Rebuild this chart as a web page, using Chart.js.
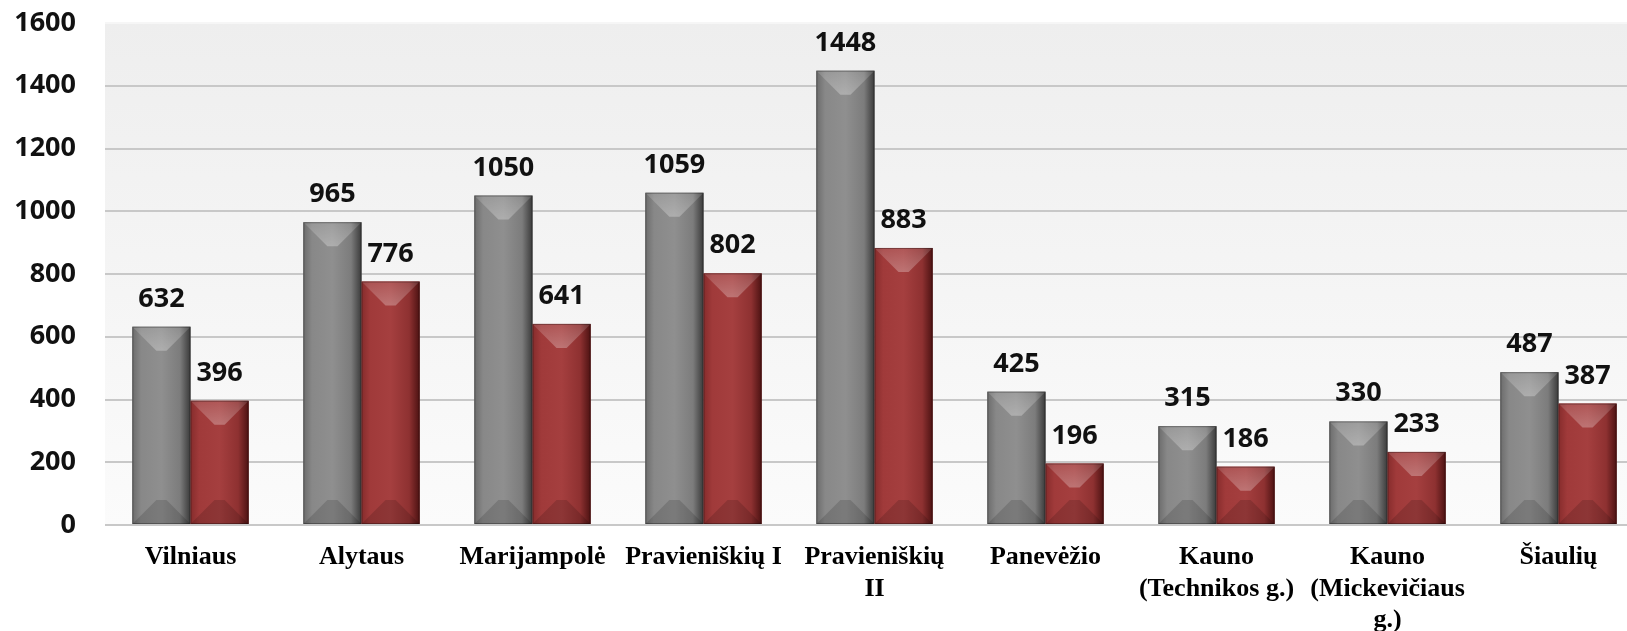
<!DOCTYPE html>
<html>
<head>
<meta charset="utf-8">
<script src="https://cdn.jsdelivr.net/npm/chart.js@4"></script>
<style>
  html, body { margin: 0; padding: 0; background: #fff; overflow: hidden; }
  #wrap { width: 1644px; height: 631px; }
</style>
</head>
<body>
<div id="wrap"><canvas id="barChart"></canvas></div>
<script>
// categories (multi-line labels as in the original)
const categories = [
    'Vilniaus',
    'Alytaus',
    'Marijampolė',
    'Pravieniškių I',
    ['Pravieniškių', 'II'],
    'Panevėžio',
    ['Kauno', '(Technikos g.)'],
    ['Kauno', '(Mickevičiaus', 'g.)'],
    'Šiaulių'
];
const greySeries = [632, 965, 1050, 1059, 1448, 425, 315, 330, 487];
const redSeries = [396, 776, 641, 802, 883, 196, 186, 233, 387];
const yTicks = [0, 200, 400, 600, 800, 1000, 1200, 1400, 1600];

const bevel = {
    grey: ['#6c6c6c', '#888888', '#8f8f8f', '#7c7c7c', '#3a3a3a'],
    red:  ['#862c2c', '#a03a3a', '#a53f3f', '#8e3131', '#4c1212']
};

// light gradient behind the plot area
const plotBackground = {
    id: 'plotBackground',
    beforeDraw(chart) {
        const { ctx, chartArea: a } = chart;
        const g = ctx.createLinearGradient(0, a.top, 0, a.bottom);
        g.addColorStop(0, '#eeeeee');
        g.addColorStop(1, '#fbfbfb');
        ctx.save();
        ctx.fillStyle = g;
        ctx.fillRect(a.left, a.top, a.right - a.left, a.bottom - a.top);
        ctx.restore();
    }
};

// bevelled look + value labels, drawn on top of the bar elements
const bevelBars = {
    id: 'bevelBars',
    afterDatasetsDraw(chart) {
        const ctx = chart.ctx;
        chart.data.datasets.forEach((ds, di) => {
            const stops = bevel[ds.palette];
            chart.getDatasetMeta(di).data.forEach((bar, i) => {
                const { x, y, base, width } = bar.getProps(['x', 'y', 'base', 'width'], true);
                const l = x - width / 2, r = x + width / 2;
                const b = Math.min(24, width / 2 - 5, (base - y) / 2);
                ctx.save();
                // face shading left -> right
                const hg = ctx.createLinearGradient(l, 0, r, 0);
                [0, 0.15, 0.5, 0.82, 1].forEach((s, k) => hg.addColorStop(s, stops[k]));
                ctx.fillStyle = hg;
                ctx.fillRect(l, y, width, base - y);
                // top bevel
                const tg = ctx.createLinearGradient(0, y, 0, y + b);
                tg.addColorStop(0, 'rgba(255,255,255,0.12)');
                tg.addColorStop(1, 'rgba(255,255,255,0.28)');
                ctx.fillStyle = tg;
                ctx.beginPath();
                ctx.moveTo(l, y); ctx.lineTo(r, y);
                ctx.lineTo(r - b, y + b); ctx.lineTo(l + b, y + b);
                ctx.closePath(); ctx.fill();
                // bottom bevel
                ctx.fillStyle = 'rgba(0,0,0,0.14)';
                ctx.beginPath();
                ctx.moveTo(l, base); ctx.lineTo(r, base);
                ctx.lineTo(r - b, base - b); ctx.lineTo(l + b, base - b);
                ctx.closePath(); ctx.fill();
                // outline
                ctx.strokeStyle = 'rgba(0,0,0,0.3)';
                ctx.lineWidth = 1;
                ctx.strokeRect(l + 0.5, y + 0.5, width - 1, base - y - 1);
                // value label
                ctx.fillStyle = '#111';
                ctx.font = 'bold 27px "Open Sans"';
                ctx.textAlign = 'center';
                ctx.textBaseline = 'alphabetic';
                ctx.fillText(ds.data[i], x, y - 20);
                ctx.restore();
            });
        });
    }
};

const config = {
    type: 'bar',
    data: {
        labels: categories,
        datasets: [
            { label: 'A', data: greySeries, backgroundColor: bevel.grey[2], palette: 'grey' },
            { label: 'B', data: redSeries, backgroundColor: bevel.red[2], palette: 'red' }
        ]
    },
    options: {
        responsive: true,
        maintainAspectRatio: false,
        animation: false,
        categoryPercentage: 0.68,
        barPercentage: 1.0,
        layout: { padding: { top: 23, left: 0, right: 0, bottom: 0 } },
        plugins: {
            legend: { display: false },
            tooltip: { enabled: false }
        },
        scales: {
            x: {
                grid: { display: false },
                border: { display: false },
                ticks: {
                    color: '#000',
                    padding: 9,
                    maxRotation: 0,
                    autoSkip: false,
                    font: { family: '"Liberation Serif"', weight: 'bold', size: 26, lineHeight: 1.2 }
                },
                afterFit(axis) { axis.height = 106; }
            },
            y: {
                min: 0,
                max: 1600,
                afterBuildTicks(axis) { axis.ticks = yTicks.map(v => ({ value: v })); },
                grid: {
                    color: ctx => ctx.tick && ctx.tick.value === 1600 ? '#f6f6f6' : '#c8c8c8',
                    lineWidth: 2,
                    drawTicks: false
                },
                border: { display: false },
                ticks: {
                    color: '#111',
                    padding: 29,
                    callback: v => String(v),
                    font: { family: '"Open Sans"', weight: 'bold', size: 27 }
                },
                afterFit(axis) {
                    axis.width = 105;
                    axis.paddingTop = 0;
                    axis.paddingBottom = 0;
                }
            }
        }
    },
    plugins: [plotBackground, bevelBars]
};

new Chart(document.getElementById('barChart').getContext('2d'), config);
</script>
</body>
</html>
